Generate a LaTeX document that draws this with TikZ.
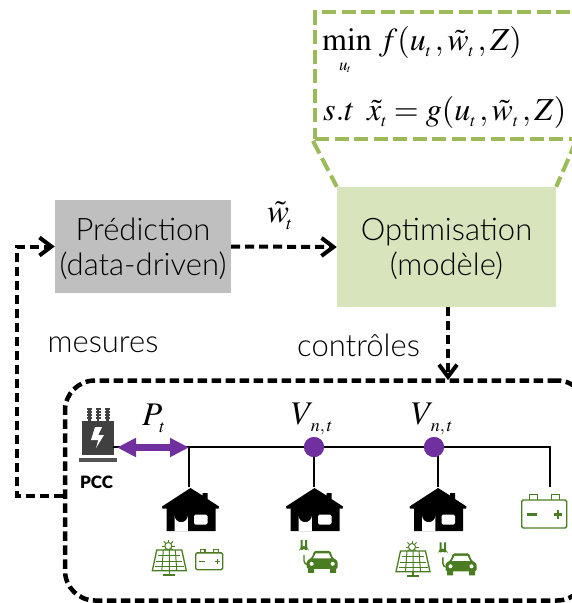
\documentclass[tikz,border=0pt]{standalone}
\usepackage{mathptmx}
\usepackage{fontspec}
\setmainfont[BoldFont=Lato Black]{Lato Light}
\usetikzlibrary{arrows.meta,shapes.geometric}

\definecolor{gristrans}{HTML}{404040}
\definecolor{grisbox}{HTML}{BFBFBF}
\definecolor{vertbox}{HTML}{D7E4BC}
\definecolor{vertdash}{HTML}{9BBB59}
\definecolor{vertico}{HTML}{4A7D21}
\definecolor{violet}{HTML}{7030A0}

\newcommand{\sizept}[1]{\fontsize{#1}{#1}\selectfont}
\newcommand{\indice}[1]{\raisebox{-6pt}{\sizept{17}$#1$}}
\newcommand{\grand}[2]{{\sizept{33}$#1$}\kern-3pt\raisebox{-7pt}{\sizept{18}$#2$}}

\tikzset{
  block/.style={inner sep=0pt, align=center, font=\fontsize{31}{35}\selectfont},
  lien/.style={line width=4pt, dash pattern=on 9pt off 5pt},
  fleche/.style={lien, -{Straight Barb[length=12pt,width=18pt,line width=4pt]}},
  vertlien/.style={vertdash, line width=4pt, dash pattern=on 14pt off 5.5pt},
  fil/.style={line width=2pt},
  formule/.style={inner sep=0pt, anchor=base west, font=\sizept{32}},
  noeudv/.style={circle, fill=violet, inner sep=0pt, minimum size=20pt},
  etiquette/.style={inner sep=0pt, font=\sizept{31}},
  house/.pic={
    \fill (0,0) -- (12,7.5) -- (12,5) -- (17,5) -- (17,11) -- (28.5,18.5) -- (28,20.5) -- (25,20.5)
      -- (25,43) -- (-24,43) -- (-24,20.5) -- (-28,20.5) -- (-28.5,18.5) -- cycle;
    \fill[white] (-16,43) -- (-16,27.5) arc[start angle=180, end angle=0, radius=6.7] -- (-2.6,43) -- cycle;
    \fill[white, rounded corners=1.5pt] (3.5,26.5) rectangle (17,36.5);
  },
  batterie/.pic={
    \draw[vertico, line width=1.4pt, rounded corners=1.5pt] (-22.5,-14) rectangle (22.5,14);
    \draw[vertico, line width=1.4pt] (-15,-14) |- (-7,-19.5) -- (-7,-14);
    \draw[vertico, line width=1.4pt] (7,-14) |- (15,-19.5) -- (15,-14);
    \fill[vertico] (-17,-1) rectangle (-7.5,1.5);
    \fill[vertico] (10,-1) rectangle (18,1.5);
    \fill[vertico] (12.8,-4) rectangle (15.2,4.5);
  },
  solaire/.pic={
    % Soleil
    \foreach \ang in {0,45,...,315}
      \draw[vertico, line width=1pt] (-1,-14)++(\ang:3.5) -- ++(\ang:3);
    \draw[vertico, line width=1pt, fill=white] (-1,-14) circle (3.5);
    % Panneau
    \draw[vertico, line width=1.3pt, fill=white] (-12.5,-10) -- (12.5,-10) -- (17,10.7) -- (-17,10.7) -- cycle;
    \draw[vertico, line width=1pt] (-11,-5) -- (11,-5) (-13,1) -- (13,1) (-14.5,6) -- (14.5,6);
    \draw[vertico, line width=1pt] (-6,-10) -- (-7.5,10.7) (0,-10) -- (0,10.7) (6,-10) -- (7.5,10.7);
    % Pied
    \draw[vertico, line width=1.3pt] (0,10.7) -- (0,15) (-6,15) -- (6,15);
  },
  voiture/.pic={
    % Prise
    \fill[vertico] (-23,-12.5) -- (-13.5,-12.5) -- (-13.5,-11) arc[start angle=0, end angle=-180, radius=4.75] -- cycle;
    \fill[vertico] (-21.5,-22) rectangle (-19.5,-12) (-17,-22) rectangle (-15,-12);
    \draw[vertico, line width=1.4pt] (-18.2,-7) -- (-18.2,-1) to[out=-90, in=180] (-14,3);
    % Carrosserie
    \fill[vertico, rounded corners=1.5pt] (-15.5,7) -- (-15.5,-1) -- (-10.5,-4) -- (-8,-11) -- (8,-11) -- (10.5,-4) -- (15.5,-1) -- (15.5,7) -- cycle;
    \fill[vertico] (-14,6) rectangle (-8,11) (8,6) rectangle (14,11);
    \fill[white] (-9,-3.5) -- (-6.5,-8.5) -- (6.5,-8.5) -- (9,-3.5) -- cycle;
    \fill[white] (-10.5,2) circle (2) (10.5,2) circle (2);
  }
}

\begin{document}
\begin{tikzpicture}[x=1pt,y=-1pt]
  \useasboundingbox (0,0) rectangle (572,603);
  \clip (0,0) rectangle (572,603);

  % Blocs
  \node[block, fill=grisbox, minimum width=176pt, minimum height=93pt] (prediction) at (143,246.5) {\rule{0pt}{27pt}Prédiction\\(data-driven)};
  \node[block, fill=vertbox, minimum width=219pt, minimum height=120pt] (optimisation) at (446.5,247) {\rule{0pt}{27pt}Optimisation\\(modèle)};

  % Formulation
  \node[draw=vertdash, line width=4pt, dash pattern=on 14pt off 5.5pt, minimum width=259pt, minimum height=127pt] (formbox) at (444.5,75.5) {};
  \draw[vertlien] (formbox.south west) -- (optimisation.north west);
  \draw[vertlien] (formbox.south east) -- (optimisation.north east);
  \node[formule] (minexpr) at (322,50) {$\min\,f(u\indice{t}\,,\tilde{w}\indice{t}\,,Z)$};
  \node[inner sep=0pt] (minsub) at (345,68) {\indice{u}\kern-.5pt\raisebox{-8pt}{\sizept{11}$t$}};
  \node[formule] (stexpr) at (323,120) {$s.t\ \,\tilde{x}\indice{t}=g(u\indice{t}\,,\tilde{w}\indice{t}\,,Z)$};

  % Reseau
  \node[draw, line width=4.5pt, dash pattern=on 9.5pt off 4.5pt, rounded corners=30pt, minimum width=522pt, minimum height=220pt] (reseau) at (326,490.5) {};

  % Echanges
  \coordinate (mesout) at (reseau.west |- 0,496);
  \coordinate (mescoin) at (17,496);
  \draw[fleche] (prediction.east) -- (optimisation.west);
  \node[formule] (wlabel) at (267,222) {\grand{\tilde{w}}{t}};
  \draw[fleche] (mesout) -- (mescoin) |- (prediction.west);
  \coordinate (ctrlout) at (448,307);
  \coordinate (ctrlin) at (448,380);
  \draw[fleche] (ctrlout) -- (ctrlin);
  \node[etiquette] (mesures) at (103,345) {mesures};
  \node[etiquette] (controles) at (358.5,345) {contrôles};

  % Transformateur
  \fill[gristrans] (82,421) rectangle (114,455);
  \fill[gristrans!90] (79,457.5) rectangle (117,461.5);
  \foreach \xi in {89.3,98,107.3} {
    \draw[gristrans, line width=5pt, dash pattern=on 2pt off 1pt] (\xi,408) -- (\xi,419.5);
    \draw[gristrans, line width=2.5pt] (\xi,408) -- (\xi,421);
  }
  \fill[white] (95,427) -- (102,427) -- (98.3,435) -- (104,435) -- (96,448) -- (98.3,440) -- (91,440) -- cycle;
  \node[inner sep=0pt, font=\sizept{17}\bfseries] (pcc) at (96.5,482) {PCC};

  % Ligne
  \coordinate (pccbus) at (113,446.5);
  \coordinate (busa) at (188.5,446.5);
  \coordinate (busend) at (550,446.5);
  \coordinate (busendb) at (550,487);
  \node[noeudv] (vnoeudb) at (314,447) {};
  \node[noeudv] (vnoeudc) at (434,447) {};
  \draw[fil] (pccbus) -- (busend) -- (busendb);
  \draw[fil] (busa) -- (188.5,487);
  \draw[fil] (vnoeudb) -- (314,487);
  \draw[fil] (438,447) -- (438,487);
  \node[noeudv] at (vnoeudc) {};
  \node[noeudv] at (vnoeudb) {};

  % Puissance
  \coordinate (pa) at (117,447.5);
  \coordinate (pb) at (189,447.5);
  \draw[violet, line width=7pt, {Triangle[length=19pt,width=18pt]}-{Triangle[length=19pt,width=18pt]}] (pa) -- (pb);

  % Labels
  \node[formule] (plabel) at (142,425) {\grand{P}{t}};
  \node[formule] (vlabelb) at (291,424) {\grand{V}{n,t}};
  \node[formule] (vlabelc) at (411,424) {\grand{V}{n,t}};

  % Maisons
  \pic at (190.5,488) {house};
  \pic at (314.5,488) {house};
  \pic at (438,488) {house};

  % Equipements
  \pic at (169.3,560) {solaire};
  \pic[scale=.6] at (209.2,561.3) {batterie};
  \pic at (322.2,561.8) {voiture};
  \pic at (413,561) {solaire};
  \pic at (461,564.3) {voiture};
  \pic at (544.2,514) {batterie};

\end{tikzpicture}
\end{document}
